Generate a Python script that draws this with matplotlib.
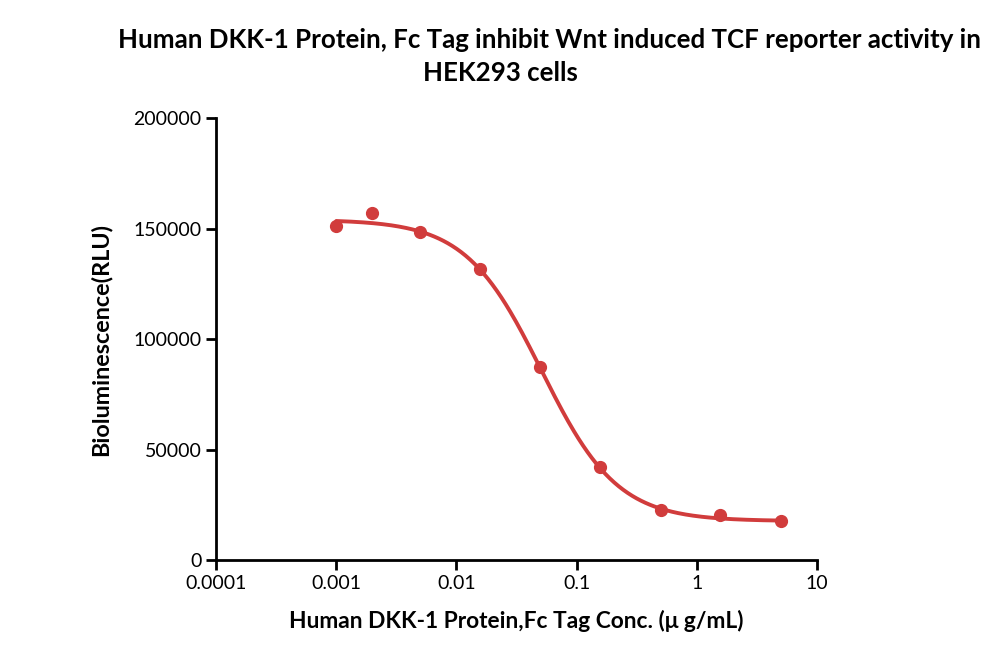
import numpy as np
import matplotlib
matplotlib.use("Agg")
import matplotlib.pyplot as plt

# concentrations (ug/mL) and measured luminescence
conc = [0.001, 0.002, 0.005, 0.0156, 0.05, 0.156, 0.5, 1.56, 5.0]
rlu = [151000, 157000, 148500, 131500, 87500, 42000, 22700, 20400, 17700]

# 4PL fit parameters
fit_top = 154000
fit_bottom = 17600
fit_ic50 = 0.051
fit_hill = 1.375

red = '#d13c3c'

plt.rcParams['font.family'] = ['Lato', 'DejaVu Sans']

fig = plt.figure(figsize=(10, 6.53), dpi=100)
ax = fig.add_axes([0.216, 0.1424, 0.601, 0.6769])

xs = np.logspace(np.log10(conc[0]), np.log10(conc[-1]), 300)
ys = fit_bottom + (fit_top - fit_bottom) / (1 + (xs / fit_ic50) ** fit_hill)
ax.plot(xs, ys, color=red, lw=2.8, solid_capstyle='round')
ax.plot(conc, rlu, 'o', color=red, ms=8.5)

ax.set_xscale('log')
ax.set_xlim(0.0001, 10)
ax.set_ylim(0, 200000)
ax.set_xticks([0.0001, 0.001, 0.01, 0.1, 1, 10])
ax.set_xticklabels(['0.0001', '0.001', '0.01', '0.1', '1', '10'])
ax.xaxis.set_minor_locator(matplotlib.ticker.NullLocator())
ax.set_yticks([0, 50000, 100000, 150000, 200000])
ax.set_yticklabels(['0', '50000', '100000', '150000', '200000'])

for s in ['top', 'right']:
    ax.spines[s].set_visible(False)
for s in ['left', 'bottom']:
    ax.spines[s].set_linewidth(2)
ax.tick_params(width=2, length=7, labelsize=14, direction='out')

ax.set_xlabel('Human DKK-1 Protein,Fc Tag Conc. (\u03bc g/mL)', fontsize=16.4,
              fontweight='bold', labelpad=13)
ax.set_ylabel('Bioluminescence(RLU)', fontsize=16.8, fontweight='bold', labelpad=16)

fig.text(0.55, 0.938, 'Human DKK-1 Protein, Fc Tag inhibit Wnt induced TCF reporter activity in',
         ha='center', va='center', fontsize=18.6, fontweight='bold')
fig.text(0.50, 0.888, 'HEK293 cells', ha='center', va='center', fontsize=18.6, fontweight='bold')

fig.savefig('out.png', dpi=100)
